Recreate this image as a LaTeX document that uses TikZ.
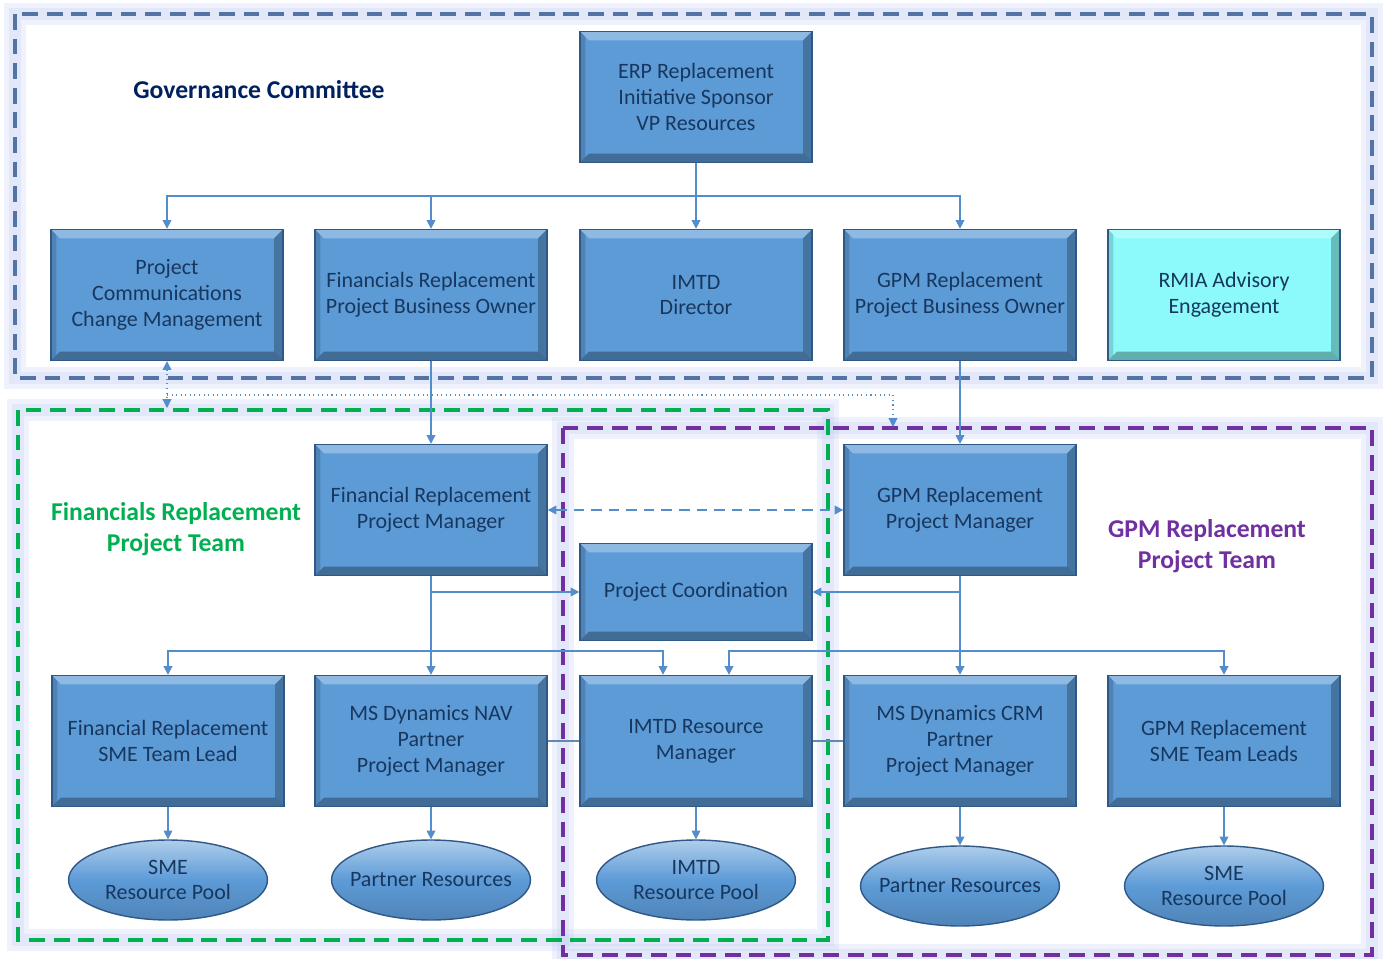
\documentclass[tikz,border=0pt]{standalone}
\usepackage{fontspec}
\setmainfont{Carlito}
\usetikzlibrary{shapes.geometric,arrows.meta}

\definecolor{boxfill}{RGB}{93,155,215}
\definecolor{boxedge}{RGB}{47,88,135}
\definecolor{boxtext}{RGB}{23,55,94}
\definecolor{rmiafill}{RGB}{140,250,250}
\definecolor{linkblue}{RGB}{84,141,204}
\definecolor{govblue}{RGB}{84,115,165}
\definecolor{govtext}{RGB}{0,32,96}
\definecolor{teamgreen}{RGB}{0,176,80}
\definecolor{teampurple}{RGB}{112,48,160}
\definecolor{glow}{RGB}{180,195,240}

%% bevel edges for the unit boxes
\newcommand{\boxbevel}{%
  \fill[white,opacity=0.3] (path picture bounding box.north west) -- (path picture bounding box.north east)
    -- ([shift={(-5pt,-5pt)}]path picture bounding box.north east) -- ([shift={(5pt,-5pt)}]path picture bounding box.north west) -- cycle;
  \fill[black,opacity=0.25] (path picture bounding box.north east) -- (path picture bounding box.south east)
    -- ([shift={(-5pt,5pt)}]path picture bounding box.south east) -- ([shift={(-5pt,-5pt)}]path picture bounding box.north east) -- cycle;
  \fill[black,opacity=0.3] (path picture bounding box.south west) -- (path picture bounding box.south east)
    -- ([shift={(-5pt,5pt)}]path picture bounding box.south east) -- ([shift={(5pt,5pt)}]path picture bounding box.south west) -- cycle;
  \fill[black,opacity=0.15] (path picture bounding box.north west) -- (path picture bounding box.south west)
    -- ([shift={(3pt,3pt)}]path picture bounding box.south west) -- ([shift={(3pt,-3pt)}]path picture bounding box.north west) -- cycle;
}

\tikzset{
  x=0.02cm, y=-0.02cm,
  >={Triangle[length=5pt,width=5pt]},
  unitbox/.style={draw=boxedge, line width=0.8pt, fill=boxfill, text=boxtext,
    minimum width=4.64cm, minimum height=2.62cm, inner sep=1pt, align=center,
    font=\fontsize{12.5}{14.7}\selectfont, path picture={\boxbevel}},
  poolnode/.style={ellipse, draw=boxedge, line width=0.8pt, top color=boxfill!50!white,
    bottom color=boxfill!85!black, middle color=boxfill, text=boxtext,
    minimum width=3.98cm, minimum height=1.6cm, inner ysep=0pt, inner xsep=-1cm, align=center,
    font=\fontsize{12.5}{14.7}\selectfont},
  teamlabel/.style={font=\bfseries\fontsize{14.6}{17.6}\selectfont, align=center},
  teamframe/.style={line width=2pt, dash pattern=on 9pt off 5pt},
  glowline/.style={draw=glow, line width=#1, opacity=0.22},
  link/.style={draw=linkblue, line width=0.9pt},
  dotlink/.style={draw=linkblue, line width=0.6pt, dotted},
  dashlink/.style={draw=linkblue, line width=0.9pt, dash pattern=on 6pt off 4pt},
  sidelink/.style={draw=linkblue!70!gray, line width=0.6pt}
}

\begin{document}
\begin{tikzpicture}
\useasboundingbox (0,0) rectangle (1387,959);

%% team frames
\draw[glowline=12pt] (15,14) rectangle (1372,378);
\draw[glowline=7pt] (15,14) rectangle (1372,378);
\draw[glowline=12pt] (18,410) rectangle (828,940);
\draw[glowline=7pt] (18,410) rectangle (828,940);
\draw[glowline=12pt] (563,428) rectangle (1372,955);
\draw[glowline=7pt] (563,428) rectangle (1372,955);
\draw[teamframe, govblue] (15,14) rectangle (1372,378);
\draw[teamframe, teamgreen] (18,410) rectangle (828,940);
\draw[teamframe, teampurple] (563,428) rectangle (1372,955);

\node[teamlabel, text=govtext] (govlabel) at (259,90) {Governance Committee};
\node[teamlabel, text=teamgreen] (finlabel) at (176,529) {Financials Replacement\\Project Team};
\node[teamlabel, text=teampurple] (gpmlabel) at (1207,546) {GPM Replacement\\Project Team};

%% governance
\node[unitbox] (erp) at (696,97) {ERP Replacement\\Initiative Sponsor\\VP Resources};
\node[unitbox] (comm) at (167,295) {Project\\Communications\\Change Management};
\node[unitbox] (finbo) at (431,295) {Financials Replacement\\Project Business Owner};
\node[unitbox] (dir) at (696,295) {IMTD\\Director};
\node[unitbox] (gpmbo) at (960,295) {GPM Replacement\\Project Business Owner};
\node[unitbox, fill=rmiafill] (rmia) at (1224,295) {RMIA Advisory\\Engagement};

%% project managers
\node[unitbox] (finpm) at (431,510) {Financial Replacement\\Project Manager};
\node[unitbox] (gpmpm) at (960,510) {GPM Replacement\\Project Manager};
\node[unitbox, minimum height=1.94cm] (coord) at (696,592) {Project Coordination};

%% leads
\node[unitbox] (finsme) at (168,741) {Financial Replacement\\SME Team Lead};
\node[unitbox] (nav) at (431,741) {MS Dynamics NAV\\Partner\\Project Manager};
\node[unitbox] (imtdrm) at (696,741) {IMTD Resource\\Manager};
\node[unitbox] (crm) at (960,741) {MS Dynamics CRM\\Partner\\Project Manager};
\node[unitbox] (gpmsme) at (1224,741) {GPM Replacement\\SME Team Leads};

%% resource pools
\node[poolnode] (smepool1) at (168,880) {SME\\Resource Pool};
\node[poolnode] (partres1) at (431,880) {Partner Resources};
\node[poolnode] (imtdpool) at (696,880) {IMTD\\Resource Pool};
\node[poolnode] (partres2) at (960,886) {Partner Resources};
\node[poolnode] (smepool2) at (1224,886) {SME\\Resource Pool};

%% sponsor to governance row
\coordinate (govbus) at (696,196);
\draw[link,->] (erp.south) -- (dir.north);
\draw[link,->] (govbus) -| (comm.north);
\draw[link,->] (govbus) -| (finbo.north);
\draw[link,->] (govbus) -| (gpmbo.north);

%% owners to managers
\draw[link,->] (finbo.south) -- (finpm.north);
\draw[link,->] (gpmbo.south) -- (gpmpm.north);

%% communications
\coordinate (dotbus) at (167,395);
\coordinate (greentop) at (167,408);
\coordinate (purpletop) at (893,427);
\draw[dotlink,<->] (comm.south) -- (greentop);
\draw[dotlink,->] (dotbus) -| (purpletop);

\draw[dashlink,<->] (finpm.east) -- (gpmpm.west);

%% managers to leads
\coordinate (finbus) at (431,651);
\coordinate (gpmbus) at (960,651);
\draw[link,->] (finpm.south) -- (nav.north);
\draw[link,->] (finbus) -| (finsme.north);
\draw[link,->] (finbus) -| ([xshift=-0.66cm]imtdrm.north);
\draw[link,->] (finpm.south |- coord.west) -- (coord.west);
\draw[link,->] (gpmpm.south) -- (crm.north);
\draw[link,->] (gpmbus) -| (gpmsme.north);
\draw[link,->] (gpmbus) -| ([xshift=0.66cm]imtdrm.north);
\draw[link,->] (gpmpm.south |- coord.east) -- (coord.east);

\draw[sidelink] (nav.east) -- (imtdrm.west);
\draw[sidelink] (imtdrm.east) -- (crm.west);

%% leads to pools
\draw[link,->] (finsme.south) -- (smepool1.north);
\draw[link,->] (nav.south) -- (partres1.north);
\draw[link,->] (imtdrm.south) -- (imtdpool.north);
\draw[link,->] (crm.south) -- (partres2.north);
\draw[link,->] (gpmsme.south) -- (smepool2.north);
\end{tikzpicture}
\end{document}
